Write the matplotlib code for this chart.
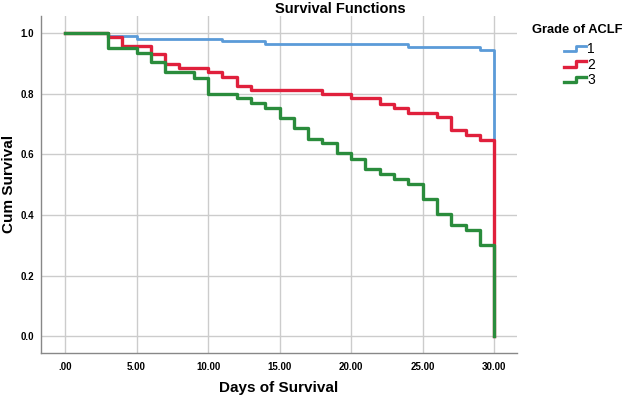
import matplotlib
matplotlib.use("Agg")
import matplotlib.pyplot as plt
from matplotlib.legend_handler import HandlerBase
from matplotlib.lines import Line2D

# Data (Kaplan-Meier step curves)
grade1_t = [0, 3, 5, 11, 14, 24, 29, 30]
grade1_s = [1.0, 0.990, 0.982, 0.973, 0.963, 0.953, 0.944, 0.0]

grade2_t = [0, 3, 4, 6, 7, 8, 10, 11, 12, 13, 18, 20, 22, 23, 24, 26, 27, 28, 29, 30]
grade2_s = [1.0, 0.988, 0.958, 0.930, 0.900, 0.886, 0.872, 0.857, 0.826, 0.812,
            0.798, 0.785, 0.768, 0.754, 0.737, 0.724, 0.679, 0.665, 0.649, 0.0]

grade3_t = [0, 3, 5, 6, 7, 9, 10, 12, 13, 14, 15, 16, 17, 18, 19, 20, 21, 22, 23,
            24, 25, 26, 27, 28, 29, 30]
grade3_s = [1.0, 0.952, 0.936, 0.905, 0.872, 0.853, 0.801, 0.786, 0.769, 0.753,
            0.721, 0.686, 0.652, 0.638, 0.603, 0.586, 0.552, 0.536, 0.519, 0.502,
            0.453, 0.402, 0.368, 0.351, 0.300, 0.0]

series_labels = ["1", "2", "3"]
colors = ["#5b9bd8", "#e0203c", "#2a8c3c"]
xticks = [0, 5, 10, 15, 20, 25, 30]
xtick_labels = [".00", "5.00", "10.00", "15.00", "20.00", "25.00", "30.00"]
yticks = [0.0, 0.2, 0.4, 0.6, 0.8, 1.0]
ytick_labels = ["0.0", "0.2", "0.4", "0.6", "0.8", "1.0"]

plt.rcParams['font.family'] = ['Liberation Sans', 'DejaVu Sans']

fig = plt.figure(figsize=(6.25, 3.95), dpi=100)
ax = fig.add_axes([0.0656, 0.107, 0.7616, 0.8525])

curves = [(grade1_t, grade1_s), (grade2_t, grade2_s), (grade3_t, grade3_s)]
widths = [2.0, 2.4, 2.4]
handles = []
for (t, s), c, lw, lab in zip(curves, colors, widths, series_labels):
    ln, = ax.step(t, s, where='post', color=c, lw=lw, label=lab, zorder=3)
    handles.append(ln)

ax.set_xlim(-1.68, 31.6)
ax.set_ylim(-0.055, 1.057)
ax.set_xticks(xticks)
ax.set_xticklabels(xtick_labels)
ax.set_yticks(yticks)
ax.set_yticklabels(ytick_labels)
ax.tick_params(axis='y', length=0, pad=5, labelsize=7)
ax.tick_params(axis='x', length=0, pad=7, labelsize=7)
for lbl in ax.get_xticklabels() + ax.get_yticklabels():
    lbl.set_fontweight('bold')
ax.grid(True, color='#cccccc', lw=1.0)
ax.set_axisbelow(True)
for sp in ['top', 'right']:
    ax.spines[sp].set_visible(False)
for sp in ['left', 'bottom']:
    ax.spines[sp].set_color('#888888')
    ax.spines[sp].set_linewidth(1.0)

ax.set_xlabel("Days of Survival", fontsize=11, fontweight='bold')
ax.set_ylabel("Cum Survival", fontsize=11, fontweight='bold')
ax.xaxis.set_label_coords(0.5, -0.085)
ax.yaxis.set_label_coords(-0.053, 0.5)
fig.text(0.544, 0.978, "Survival Functions", ha='center', va='center',
         fontsize=10.5, fontweight='bold')
fig.text(0.851, 0.925, "Grade of ACLF", ha='left', va='center',
         fontsize=9.3, fontweight='bold')


class StepHandler(HandlerBase):
    def create_artists(self, legend, orig_handle, xdescent, ydescent, width, height, fontsize, trans):
        xs = [-xdescent, -xdescent + width * 0.55, -xdescent + width * 0.55, -xdescent + width]
        y0 = -ydescent + height * 0.2
        y1 = -ydescent + height * 0.75
        ys = [y0, y0, y1, y1]
        l = Line2D(xs, ys, color=orig_handle.get_color(), lw=orig_handle.get_linewidth(),
                   transform=trans)
        return [l]


leg = fig.legend(handles=handles, labels=series_labels,
                 loc='upper left', bbox_to_anchor=(0.902, 0.893), frameon=False,
                 fontsize=10, handlelength=1.6, handletextpad=0.1,
                 labelspacing=0.1, borderaxespad=0, borderpad=0,
                 handler_map={Line2D: StepHandler()})

fig.savefig("out.png", dpi=100)
